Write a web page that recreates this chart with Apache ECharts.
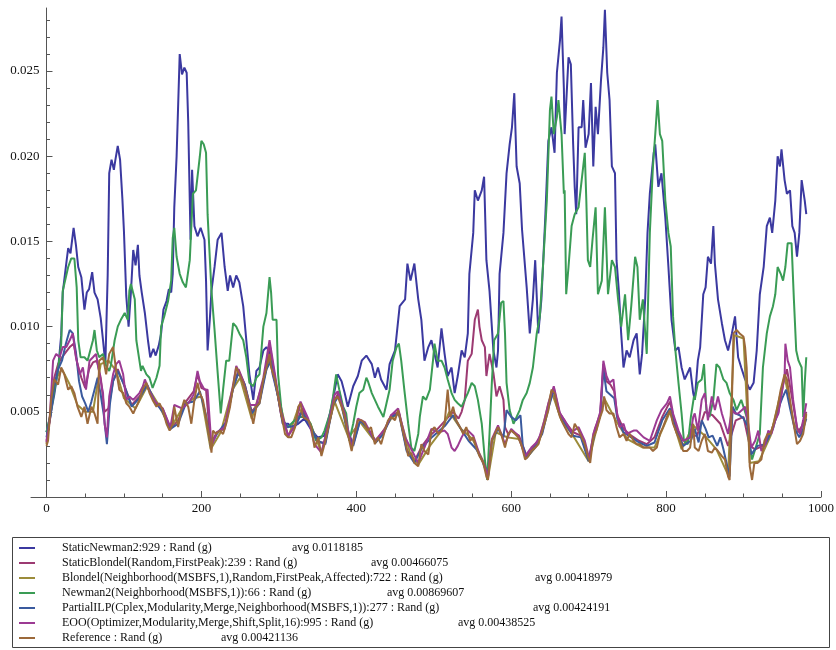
<!DOCTYPE html>
<html>
<head>
<meta charset="utf-8">
<script src="https://cdn.jsdelivr.net/npm/echarts@6/dist/echarts.min.js"></script>
<style>
  body { margin: 0; background: #fff; }
  #chart { width: 836px; height: 650px; }
</style>
</head>
<body>
<div id="chart"></div>
<script>
var seriesNames = [
  'StaticNewman2:929 : Rand (g)',
  'StaticBlondel(Random,FirstPeak):239 : Rand (g)',
  'Blondel(Neighborhood(MSBFS,1),Random,FirstPeak,Affected):722 : Rand (g)',
  'Newman2(Neighborhood(MSBFS,1)):66 : Rand (g)',
  'PartialILP(Cplex,Modularity,Merge,Neighborhood(MSBFS,1)):277 : Rand (g)',
  'EOO(Optimizer,Modularity,Merge,Shift,Split,16):995 : Rand (g)',
  'Reference : Rand (g)'
];
var seriesAvgs = ['avg 0.0118185', 'avg 0.00466075', 'avg 0.00418979', 'avg 0.00869607',
  'avg 0.00424191', 'avg 0.00438525', 'avg 0.00421136'];
var seriesColors = ['#3b39a0', '#9c3a72', '#9c8c3a', '#3a9c55', '#3a5a9e', '#9c3a93', '#9c693a'];

var xLabelTicks = [0, 200, 400, 600, 800, 1000];
var xMinorTicks = [50, 100, 150, 250, 300, 350, 450, 500, 550, 650, 700, 750, 850, 900, 950];
var yLabelTicks = [0.005, 0.01, 0.015, 0.02, 0.025];
var yMinorTicks = [0.001, 0.002, 0.003, 0.004, 0.006, 0.007, 0.008, 0.009, 0.011, 0.012, 0.013, 0.014,
  0.016, 0.017, 0.018, 0.019, 0.021, 0.022, 0.023, 0.024, 0.026, 0.027, 0.028];

var staticNewman2 = [[0,.0038],[5,.0048],[10,.0060],[15,.0075],[19,.0095],[21,.0120],[25,.0135],[28,.0146],[31,.0143],[35,.0158],[38,.0148],[41,.0135],[45,.0129],[49,.0110],[52,.0120],[55,.0122],[59,.0132],[62,.0120],[66,.0116],[70,.0105],[73,.0092],[76,.0078],[79,.0130],[81,.0190],[84,.0198],[87,.0192],[89,.0198],[92,.0206],[95,.0198],[98,.0175],[100,.0156],[103,.0118],[106,.0100],[109,.0120],[112,.0145],[115,.0136],[118,.0148],[120,.0130],[123,.0120],[127,.0108],[131,.0092],[134,.0082],[138,.0087],[141,.0083],[145,.0089],[148,.0096],[151,.0110],[155,.0115],[158,.0122],[161,.0120],[163,.0131],[165,.0170],[168,.0200],[172,.0260],[175,.0248],[178,.0252],[181,.0249],[183,.0220],[186,.0151],[188,.0192],[191,.0159],[195,.0153],[199,.0158],[204,.0151],[206,.0127],[208,.0086],[211,.0105],[213,.0121],[217,.0135],[221,.0151],[226,.0155],[230,.0135],[234,.0121],[237,.0130],[241,.0123],[245,.0130],[249,.0126],[254,.0112],[258,.0092],[262,.0072],[267,.0057],[271,.0074],[275,.0076],[280,.0086],[284,.0088],[288,.0085],[292,.0072],[299,.0059],[305,.0043],[312,.0043],[316,.0041],[325,.0043],[333,.0046],[341,.0040],[350,.0035],[359,.0036],[368,.0053],[376,.0072],[381,.0068],[385,.0061],[389,.0053],[396,.0065],[402,.0071],[407,.0080],[413,.0083],[420,.0078],[424,.0070],[428,.0076],[432,.0069],[439,.0063],[443,.0078],[450,.0086],[456,.0112],[463,.0116],[466,.0137],[470,.0127],[475,.0137],[480,.0116],[484,.0104],[488,.0080],[493,.0088],[497,.0092],[501,.0084],[505,.0076],[510,.0099],[514,.0084],[518,.0071],[523,.0076],[527,.0061],[531,.0071],[536,.0086],[540,.0082],[544,.0096],[546,.0131],[551,.0155],[553,.0180],[557,.0174],[562,.0180],[565,.0188],[568,.0139],[572,.0121],[577,.0086],[581,.0076],[583,.0086],[585,.0131],[590,.0155],[594,.0190],[598,.0207],[601,.0217],[604,.0237],[607,.0194],[611,.0184],[614,.0157],[620,.0123],[624,.0096],[628,.0116],[631,.0139],[635,.0096],[639,.0116],[644,.0164],[648,.0209],[652,.0217],[656,.0202],[659,.0249],[663,.0268],[665,.0282],[668,.0240],[669,.0213],[674,.0258],[677,.0254],[680,.0207],[682,.0182],[684,.0166],[687,.0217],[691,.0217],[693,.0233],[696,.0205],[700,.0213],[703,.0243],[706,.0194],[709,.0229],[712,.0213],[716,.0245],[719,.0264],[721,.0286],[724,.0249],[727,.0233],[730,.0194],[734,.0190],[736,.0139],[739,.0121],[742,.0096],[745,.0076],[749,.0086],[753,.0082],[758,.0092],[762,.0096],[766,.0072],[769,.0084],[773,.0116],[776,.0155],[779,.0178],[784,.0202],[786,.0207],[790,.0182],[794,.0190],[799,.0164],[803,.0135],[807,.0104],[812,.0086],[816,.0088],[820,.0076],[824,.0069],[831,.0076],[835,.0061],[837,.0057],[841,.0080],[844,.0088],[848,.0119],[851,.0123],[854,.0141],[858,.0137],[861,.0159],[863,.0137],[867,.0116],[872,.0102],[876,.0092],[880,.0086],[885,.0096],[889,.0106],[893,.0082],[897,.0076],[902,.0069],[908,.0063],[913,.0067],[917,.0086],[921,.0119],[926,.0135],[930,.0159],[934,.0164],[937,.0155],[941,.0174],[944,.0200],[947,.0194],[949,.0204],[953,.0186],[956,.0178],[960,.0180],[963,.0159],[966,.0155],[969,.0141],[972,.0155],[975,.0186],[979,.0174],[981,.0166]];

var staticBlondel = [[0,.0033],[5,.0047],[10,.0070],[15,.0078],[20,.0082],[25,.0085],[30,.0088],[35,.0090],[40,.0078],[45,.0070],[50,.0064],[55,.0075],[60,.0079],[65,.0080],[70,.0070],[75,.0050],[80,.0052],[86,.0068],[92,.0075],[100,.0066],[110,.0054],[120,.0059],[130,.0065],[140,.0056],[150,.0052],[160,.0040],[170,.0045],[180,.0056],[190,.0062],[195,.0072],[200,.0064],[206,.0063],[212,.0031],[220,.0038],[230,.0040],[240,.0062],[248,.0075],[256,.0066],[265,.0050],[275,.0056],[282,.0072],[288,.0090],[295,.0070],[303,.0048],[312,.0036],[322,.0043],[330,.0052],[340,.0043],[350,.0032],[360,.0032],[370,.0055],[378,.0062],[388,.0040],[396,.0031],[405,.0045],[415,.0040],[425,.0033],[435,.0038],[445,.0048],[455,.0050],[465,.0028],[475,.0021],[485,.0030],[495,.0036],[505,.0040],[515,.0045],[525,.0050],[532,.0046],[536,.0050],[540,.0057],[544,.0080],[549,.0084],[553,.0104],[557,.0110],[559,.0100],[562,.0092],[566,.0088],[568,.0071],[572,.0084],[577,.0073],[581,.0059],[585,.0065],[590,.0057],[592,.0041],[596,.0037],[600,.0039],[610,.0036],[620,.0024],[630,.0030],[640,.0038],[648,.0053],[655,.0064],[662,.0050],[670,.0044],[680,.0038],[690,.0036],[700,.0022],[708,.0040],[715,.0049],[719,.0078],[723,.0068],[728,.0066],[733,.0062],[737,.0048],[745,.0040],[755,.0036],[765,.0033],[775,.0031],[785,.0035],[795,.0047],[805,.0056],[812,.0042],[822,.0030],[832,.0036],[840,.0036],[850,.0050],[860,.0048],[870,.0043],[880,.0030],[890,.0045],[900,.0047],[908,.0030],[915,.0028],[925,.0030],[935,.0038],[945,.0050],[952,.0068],[956,.0075],[962,.0060],[970,.0038],[976,.0042],[981,.0050]];

var blondelMsbfs = [[0,.0031],[10,.0068],[20,.0075],[30,.0066],[40,.0054],[50,.0050],[60,.0050],[70,.0078],[80,.0080],[90,.0074],[100,.0058],[115,.0052],[130,.0065],[145,.0054],[160,.0040],[175,.0052],[190,.0058],[200,.0059],[212,.0028],[225,.0038],[240,.0063],[250,.0070],[265,.0046],[280,.0068],[288,.0082],[300,.0058],[312,.0035],[325,.0052],[340,.0044],[355,.0026],[372,.0056],[390,.0035],[405,.0044],[425,.0032],[445,.0046],[455,.0049],[470,.0025],[480,.0019],[495,.0030],[510,.0039],[520,.0050],[535,.0040],[550,.0034],[565,.0020],[570,.0011],[580,.0038],[595,.0035],[610,.0034],[620,.0023],[635,.0031],[652,.0062],[665,.0045],[680,.0036],[700,.0021],[720,.0058],[735,.0045],[750,.0034],[770,.0029],[785,.0029],[805,.0050],[820,.0028],[835,.0042],[850,.0036],[865,.0028],[880,.0013],[888,.0095],[900,.0093],[908,.0020],[920,.0021],[935,.0036],[953,.0071],[965,.0043],[975,.0036],[981,.0048]];

var newman2 = [[0,.0038],[5,.0048],[10,.0062],[15,.0075],[19,.0090],[21,.0121],[25,.0129],[28,.0135],[32,.0140],[36,.0140],[39,.0123],[41,.0092],[44,.0082],[49,.0082],[53,.0080],[60,.0092],[62,.0098],[65,.0086],[68,.0082],[73,.0084],[77,.0077],[81,.0074],[83,.0077],[88,.0092],[92,.0100],[96,.0104],[101,.0108],[105,.0104],[107,.0121],[109,.0125],[114,.0116],[116,.0092],[120,.0080],[122,.0074],[124,.0077],[129,.0072],[133,.0070],[137,.0064],[142,.0070],[146,.0077],[148,.0100],[152,.0106],[157,.0115],[161,.0127],[163,.0152],[165,.0158],[168,.0141],[172,.0131],[176,.0126],[180,.0123],[185,.0139],[189,.0178],[193,.0180],[198,.0200],[200,.0209],[203,.0207],[206,.0202],[208,.0166],[213,.0121],[217,.0098],[221,.0073],[225,.0049],[228,.0063],[232,.0080],[236,.0080],[241,.0102],[245,.0100],[249,.0096],[254,.0092],[258,.0082],[262,.0067],[267,.0065],[271,.0070],[275,.0072],[280,.0100],[284,.0108],[288,.0129],[290,.0120],[292,.0104],[297,.0104],[299,.0072],[303,.0053],[307,.0041],[312,.0041],[316,.0043],[325,.0047],[333,.0047],[341,.0043],[348,.0033],[355,.0035],[359,.0039],[366,.0049],[370,.0059],[374,.0072],[378,.0063],[383,.0053],[387,.0049],[391,.0033],[396,.0043],[400,.0053],[404,.0061],[409,.0063],[413,.0070],[415,.0068],[420,.0061],[424,.0057],[428,.0053],[435,.0047],[439,.0055],[443,.0063],[447,.0080],[452,.0088],[455,.0090],[458,.0080],[462,.0063],[467,.0043],[471,.0029],[475,.0027],[480,.0037],[482,.0047],[486,.0059],[490,.0057],[495,.0063],[499,.0080],[501,.0090],[505,.0080],[510,.0080],[514,.0076],[518,.0069],[523,.0061],[527,.0057],[531,.0055],[536,.0053],[540,.0057],[544,.0061],[549,.0067],[553,.0065],[557,.0057],[562,.0043],[566,.0022],[569,.0010],[572,.0037],[575,.0067],[578,.0092],[583,.0096],[587,.0114],[590,.0115],[592,.0096],[594,.0067],[598,.0051],[603,.0043],[607,.0047],[611,.0051],[615,.0057],[620,.0061],[624,.0067],[628,.0076],[633,.0096],[637,.0106],[641,.0135],[646,.0174],[650,.0227],[652,.0235],[655,.0213],[659,.0223],[661,.0233],[665,.0213],[668,.0178],[669,.0180],[671,.0119],[674,.0135],[678,.0159],[682,.0166],[687,.0170],[691,.0186],[695,.0202],[697,.0174],[699,.0139],[702,.0135],[705,.0151],[709,.0170],[712,.0119],[717,.0127],[721,.0170],[725,.0119],[730,.0139],[734,.0135],[738,.0116],[742,.0100],[747,.0119],[751,.0092],[755,.0112],[760,.0141],[763,.0135],[766,.0104],[770,.0116],[775,.0084],[779,.0155],[783,.0194],[786,.0213],[789,.0233],[792,.0213],[795,.0209],[799,.0174],[803,.0155],[806,.0147],[809,.0106],[812,.0086],[816,.0067],[820,.0049],[823,.0033],[828,.0031],[832,.0047],[836,.0059],[837,.0057],[841,.0067],[846,.0069],[849,.0078],[852,.0051],[856,.0047],[861,.0057],[865,.0078],[869,.0076],[874,.0069],[878,.0067],[882,.0061],[887,.0057],[891,.0051],[897,.0057],[904,.0047],[908,.0029],[911,.0022],[917,.0031],[921,.0037],[925,.0076],[930,.0096],[934,.0106],[938,.0112],[941,.0119],[944,.0135],[948,.0131],[951,.0127],[954,.0135],[957,.0149],[962,.0149],[965,.0116],[968,.0086],[971,.0080],[975,.0076],[977,.0047],[979,.0067],[981,.0082]];

var partialIlp = [[0,.0035],[5,.0047],[10,.0065],[15,.0075],[20,.0080],[25,.0090],[30,.0098],[34,.0096],[38,.0085],[42,.0068],[46,.0059],[50,.0055],[54,.0050],[58,.0056],[62,.0063],[66,.0070],[70,.0060],[74,.0048],[78,.0031],[82,.0055],[86,.0068],[92,.0074],[100,.0066],[110,.0053],[120,.0058],[130,.0066],[140,.0056],[150,.0050],[160,.0040],[170,.0043],[180,.0055],[190,.0056],[198,.0062],[206,.0048],[212,.0030],[220,.0037],[232,.0044],[241,.0064],[248,.0073],[256,.0066],[265,.0049],[275,.0055],[284,.0075],[290,.0080],[297,.0063],[305,.0045],[312,.0041],[322,.0042],[330,.0050],[340,.0042],[350,.0033],[360,.0031],[370,.0054],[378,.0060],[388,.0039],[396,.0030],[405,.0045],[415,.0040],[425,.0032],[435,.0037],[445,.0047],[455,.0049],[465,.0027],[475,.0020],[485,.0029],[495,.0034],[505,.0038],[515,.0042],[525,.0048],[535,.0040],[545,.0033],[555,.0028],[562,.0022],[570,.0012],[575,.0033],[583,.0040],[590,.0035],[594,.0051],[600,.0047],[606,.0045],[612,.0048],[615,.0030],[620,.0023],[630,.0029],[640,.0037],[648,.0052],[655,.0063],[662,.0049],[670,.0043],[680,.0036],[690,.0035],[700,.0021],[708,.0038],[715,.0048],[719,.0075],[723,.0062],[728,.0060],[733,.0058],[737,.0046],[745,.0038],[755,.0035],[765,.0032],[775,.0030],[785,.0032],[795,.0045],[805,.0052],[812,.0040],[822,.0030],[832,.0033],[837,.0040],[842,.0032],[846,.0045],[851,.0040],[855,.0035],[860,.0036],[866,.0030],[870,.0035],[874,.0028],[878,.0020],[882,.0012],[886,.0053],[890,.0049],[895,.0048],[900,.0046],[905,.0042],[910,.0025],[918,.0030],[928,.0031],[938,.0040],[945,.0052],[950,.0058],[955,.0063],[960,.0052],[966,.0040],[972,.0035],[977,.0040],[981,.0046]];

var eoo = [[0,.0032],[4,.0045],[8.5,.0080],[12.5,.0084],[17,.0082],[21,.0088],[25.6,.0088],[30,.0092],[34,.0096],[38,.0082],[43,.0072],[47,.0076],[51,.0063],[55.6,.0080],[60,.0082],[64,.0084],[68.5,.0072],[73,.0061],[75,.0043],[78,.0035],[81,.0059],[86,.0072],[90,.0078],[94,.0080],[99,.0072],[103,.0057],[107,.0059],[112,.0057],[116,.0059],[120,.0061],[124.5,.0065],[127,.0069],[133,.0062],[140,.0056],[150,.0052],[160,.0041],[165,.0054],[175,.0052],[183,.0055],[190,.0060],[195,.0074],[198,.0068],[204,.0063],[208,.0063],[213,.0030],[220,.0038],[230,.0041],[241,.0066],[245,.0077],[254,.0068],[262,.0054],[271,.0054],[280,.0070],[288,.0092],[295,.0072],[299,.0060],[303,.0050],[312,.0036],[321,.0042],[328,.0056],[338,.0046],[346,.0031],[355,.0026],[364,.0043],[372,.0060],[376,.0062],[385,.0049],[394,.0029],[402,.0046],[411,.0044],[424,.0033],[437,.0040],[445,.0048],[454,.0052],[463,.0035],[471,.0028],[480,.0020],[488,.0029],[497,.0040],[506,.0038],[514,.0039],[518,.0037],[523,.0029],[527,.0027],[531,.0030],[536,.0035],[542,.0040],[551,.0036],[559,.0025],[566,.0018],[570,.0012],[575,.0034],[583,.0042],[592,.0031],[600,.0040],[609,.0036],[618,.0024],[626,.0029],[635,.0033],[643,.0045],[648,.0055],[655,.0065],[659,.0057],[663,.0049],[669,.0045],[678,.0038],[687,.0041],[695,.0033],[701,.0022],[706,.0037],[710,.0042],[715,.0050],[719,.0080],[723,.0071],[727,.0067],[732,.0069],[736,.0051],[740,.0041],[745,.0043],[749,.0037],[758,.0039],[762,.0039],[771,.0035],[779,.0033],[788,.0045],[794,.0051],[801,.0055],[805,.0059],[809,.0049],[816,.0039],[822,.0033],[831,.0035],[835,.0047],[837,.0049],[841,.0039],[846,.0057],[850,.0061],[854,.0045],[859,.0059],[863,.0051],[867,.0059],[872,.0049],[876,.0043],[880,.0037],[885,.0051],[889,.0049],[893,.0049],[898,.0051],[902,.0053],[906,.0043],[910,.0029],[915,.0033],[919,.0039],[923,.0027],[928,.0031],[932,.0039],[936,.0037],[941,.0045],[945,.0049],[949,.0061],[953,.0071],[954,.0090],[957,.0080],[960,.0076],[964,.0057],[969,.0041],[973,.0037],[977,.0045],[981,.0055]];

var reference = [[0,.0030],[2,.0033],[6,.0057],[10,.0069],[15,.0066],[19,.0076],[23,.0072],[28,.0063],[32,.0065],[36,.0061],[40,.0053],[45,.0047],[49,.0053],[53,.0043],[58,.0053],[62,.0049],[66,.0043],[68,.0080],[73,.0082],[77,.0072],[81,.0084],[86,.0088],[90,.0074],[94,.0063],[99,.0061],[103,.0055],[107,.0053],[112,.0049],[116,.0053],[120,.0057],[124,.0063],[129,.0067],[133,.0061],[137,.0057],[142,.0053],[146,.0055],[150,.0051],[155,.0043],[159,.0039],[163,.0043],[165,.0053],[170,.0041],[174,.0051],[178,.0057],[183,.0053],[187,.0043],[191,.0057],[195,.0067],[198,.0061],[202,.0057],[206,.0047],[211,.0033],[213,.0026],[215,.0039],[219,.0037],[224,.0039],[228,.0037],[232,.0043],[237,.0053],[241,.0065],[245,.0076],[249,.0072],[254,.0067],[258,.0061],[262,.0053],[267,.0043],[271,.0053],[275,.0055],[280,.0069],[284,.0076],[288,.0084],[290,.0076],[295,.0069],[299,.0059],[303,.0049],[308,.0037],[312,.0035],[316,.0035],[321,.0041],[325,.0053],[328,.0055],[331,.0047],[333,.0047],[338,.0045],[342,.0041],[346,.0029],[351,.0035],[355,.0024],[359,.0031],[364,.0041],[368,.0049],[372,.0057],[376,.0059],[381,.0053],[385,.0047],[389,.0037],[394,.0027],[398,.0037],[402,.0045],[407,.0045],[411,.0043],[415,.0039],[419,.0041],[424,.0031],[428,.0035],[432,.0031],[437,.0039],[441,.0045],[445,.0047],[450,.0045],[454,.0051],[458,.0043],[463,.0033],[467,.0024],[471,.0026],[475,.0020],[480,.0018],[484,.0031],[488,.0027],[493,.0025],[497,.0039],[501,.0041],[506,.0037],[510,.0039],[514,.0043],[518,.0063],[521,.0047],[525,.0053],[529,.0045],[534,.0041],[538,.0037],[542,.0041],[547,.0033],[551,.0035],[555,.0029],[559,.0024],[564,.0020],[568,.0012],[570,.0010],[575,.0033],[579,.0037],[583,.0041],[587,.0037],[592,.0029],[596,.0037],[600,.0039],[605,.0037],[609,.0035],[613,.0031],[618,.0022],[622,.0024],[626,.0027],[631,.0029],[635,.0031],[639,.0037],[643,.0043],[648,.0051],[652,.0063],[656,.0061],[659,.0053],[663,.0047],[667,.0043],[669,.0043],[674,.0037],[678,.0035],[682,.0043],[687,.0039],[691,.0035],[695,.0031],[699,.0024],[702,.0020],[706,.0035],[710,.0039],[715,.0047],[718,.0051],[720,.0059],[723,.0051],[727,.0049],[732,.0049],[736,.0041],[740,.0035],[745,.0037],[749,.0033],[753,.0037],[758,.0033],[762,.0031],[766,.0031],[771,.0029],[775,.0029],[779,.0029],[783,.0027],[788,.0029],[792,.0037],[796,.0041],[801,.0047],[805,.0051],[809,.0043],[814,.0037],[818,.0033],[822,.0027],[827,.0027],[831,.0029],[835,.0043],[837,.0029],[842,.0027],[846,.0033],[850,.0037],[854,.0027],[859,.0026],[863,.0029],[867,.0027],[872,.0024],[876,.0022],[880,.0012],[882,.0010],[885,.0057],[887,.0096],[891,.0098],[895,.0096],[900,.0094],[902,.0088],[904,.0076],[906,.0047],[908,.0018],[911,.0010],[914,.0020],[918,.0020],[923,.0022],[927,.0033],[931,.0037],[935,.0037],[940,.0045],[944,.0053],[948,.0063],[953,.0072],[956,.0069],[960,.0057],[964,.0045],[969,.0031],[973,.0033],[977,.0037],[981,.0049]];

var seriesData = [staticNewman2, staticBlondel, blondelMsbfs, newman2, partialIlp, eoo, reference];
// width of the name column in each legend row, so the "avg" part starts where it does in the picture
var avgColumn = [230, 309, 473, 325, 471, 396, 159];

var serifFont = '"Liberation Serif", "DejaVu Serif", serif';
var axisColor = '#555';
// the x axis starts a little left of 0, so the y axis is pushed in to sit at x = 0
var gridLeft = 31, gridRight = 15, xMin = -20, xMax = 1000;
var yAxisShift = -(0 - xMin) * (836 - gridLeft - gridRight) / (xMax - xMin);

function buildSeries() {
  return seriesNames.map(function(name, i) {
    return {
      name: name,
      type: 'line',
      data: seriesData[i],
      showSymbol: false,
      symbol: 'none',
      color: seriesColors[i],
      lineStyle: { width: 2, color: seriesColors[i] },
      emphasis: { disabled: true }
    };
  });
}

function buildLegendRich() {
  var rich = {
    a: { fontFamily: serifFont, fontSize: 12, color: '#111' }
  };
  avgColumn.forEach(function(w, i) {
    rich['n' + i] = { width: w, fontFamily: serifFont, fontSize: 12, color: '#111' };
  });
  return rich;
}

var chart = echarts.init(document.getElementById('chart'));
chart.setOption({
  animation: false,
  backgroundColor: '#fff',
  grid: { left: gridLeft, right: gridRight, top: 8, bottom: 153, containLabel: false, outerBoundsMode: 'none' },
  xAxis: [{
    type: 'value', min: xMin, max: xMax,
    axisLine: { onZero: false, lineStyle: { color: axisColor, width: 1 } },
    axisTick: { inside: true, length: 6, customValues: xLabelTicks, lineStyle: { color: axisColor } },
    axisLabel: {
      customValues: xLabelTicks, margin: 5, color: '#111', fontFamily: serifFont, fontSize: 13,
      formatter: function(v) { return String(v); }
    },
    splitLine: { show: false }
  }, {
    type: 'value', min: xMin, max: xMax, position: 'bottom',
    axisLine: { show: false, onZero: false },
    axisTick: { inside: true, length: 3.5, customValues: xMinorTicks, lineStyle: { color: axisColor } },
    axisLabel: { show: false },
    splitLine: { show: false }
  }],
  yAxis: [{
    type: 'value', min: 0, max: 0.0287, position: 'left', offset: yAxisShift,
    axisLine: { onZero: false, lineStyle: { color: axisColor, width: 1 } },
    axisTick: { inside: true, length: 6, customValues: yLabelTicks, lineStyle: { color: axisColor } },
    axisLabel: {
      customValues: yLabelTicks, margin: 7, color: '#111', fontFamily: serifFont, fontSize: 13,
      formatter: function(v) { return v.toFixed(3); }
    },
    splitLine: { show: false }
  }, {
    type: 'value', min: 0, max: 0.0287, position: 'left', offset: yAxisShift,
    axisLine: { show: false, onZero: false },
    axisTick: { inside: true, length: 3.5, customValues: yMinorTicks, lineStyle: { color: axisColor } },
    axisLabel: { show: false },
    splitLine: { show: false }
  }],
  legend: {
    orient: 'vertical', left: 19, top: 542, padding: 0,
    icon: 'rect', itemWidth: 16, itemHeight: 2, itemGap: 3,
    selectedMode: false,
    data: seriesNames,
    formatter: function(name) {
      var i = seriesNames.indexOf(name);
      return '{n' + i + '|' + name + '}{a|' + seriesAvgs[i] + '}';
    },
    textStyle: { padding: [0, 0, 0, 22], rich: buildLegendRich() }
  },
  graphic: [{
    type: 'rect',
    shape: { x: 12.5, y: 537.5, width: 817, height: 110 },
    style: { fill: 'none', stroke: '#444', lineWidth: 1 },
    silent: true
  }],
  series: buildSeries()
});
</script>
</body>
</html>
